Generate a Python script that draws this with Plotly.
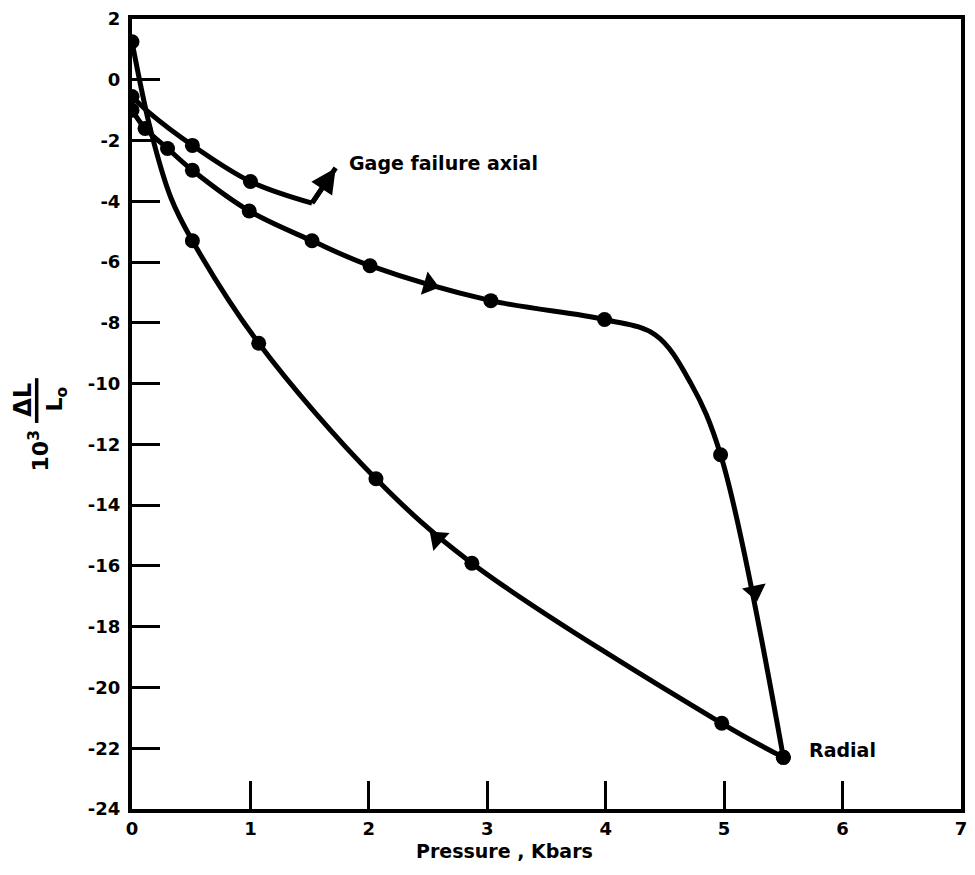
import plotly.graph_objects as go

# Axial gage: measured points and the traced curve up to gage failure
axial_dot_p = [0.0, 0.51, 1.00]
axial_dot_s = [-0.55, -2.16, -3.35]
axial_path_p = [0.0, 0.15, 0.51, 1.00, 1.52]
axial_path_s = [-0.55, -1.10, -2.16, -3.35, -4.06]
axial_fail_p = [1.52, 1.72]
axial_fail_s = [-4.06, -2.90]

# Radial gage, loading branch
radial_load_p = [0.0, 0.11, 0.30, 0.51, 0.99, 1.52, 2.01, 3.03, 3.99, 4.97, 5.50]
radial_load_s = [-1.00, -1.60, -2.26, -2.98, -4.32, -5.30, -6.12, -7.27, -7.89, -12.34, -22.30]
radial_load_path_p = [0.0, 0.11, 0.30, 0.51, 0.99, 1.52, 2.01, 3.03, 3.99, 4.42, 4.72, 4.97, 5.50]
radial_load_path_s = [-1.00, -1.60, -2.26, -2.98, -4.32, -5.30, -6.12, -7.27, -7.89, -8.40, -10.00, -12.34, -22.30]

# Radial gage, unloading branch
radial_unload_p = [5.50, 4.98, 2.87, 2.06, 1.07, 0.51, 0.0]
radial_unload_s = [-22.30, -21.18, -15.91, -13.13, -8.67, -5.30, 1.25]
radial_unload_path_p = [5.50, 4.98, 2.87, 2.06, 1.07, 0.51, 0.33, 0.16, 0.0]
radial_unload_path_s = [-22.30, -21.18, -15.91, -13.13, -8.67, -5.30, -3.90, -1.70, 1.25]

# Direction arrows along the loop (position, heading in screen degrees)
arrow_p = [2.51, 5.26, 2.58]
arrow_s = [-6.74, -16.83, -15.10]
arrow_angle = [16, 78, 222]

x_ticks = [0, 1, 2, 3, 4, 5, 6, 7]
y_ticks = list(range(2, -25, -2))

FONT = "DejaVu Sans"
LW = 5

fig = go.Figure()

for px, sy in [(axial_path_p, axial_path_s),
               (radial_load_path_p, radial_load_path_s),
               (radial_unload_path_p, radial_unload_path_s)]:
    fig.add_trace(go.Scatter(x=px, y=sy, mode="lines",
                             line=dict(color="black", width=LW, shape="spline", smoothing=1.0),
                             hoverinfo="skip"))

fig.add_trace(go.Scatter(x=axial_fail_p, y=axial_fail_s, mode="lines",
                         line=dict(color="black", width=LW), hoverinfo="skip"))

for px, sy in [(axial_dot_p, axial_dot_s),
               (radial_load_p, radial_load_s),
               (radial_unload_p, radial_unload_s)]:
    fig.add_trace(go.Scatter(x=px, y=sy, mode="markers",
                             marker=dict(color="black", size=15)))

fig.add_trace(go.Scatter(x=arrow_p, y=arrow_s, mode="markers",
                         marker=dict(symbol="triangle-right", color="black", size=21,
                                     angle=arrow_angle)))

# Arrowhead at the gage failure point
fig.add_annotation(x=axial_fail_p[1], y=axial_fail_s[1], ax=axial_fail_p[0], ay=axial_fail_s[0],
                   xref="x", yref="y", axref="x", ayref="y", text="",
                   showarrow=True, arrowhead=2, arrowsize=1.0, arrowwidth=LW, arrowcolor="black")

L, R, T, B = 132, 967, 15, 809
W, H = 975, 875


def px2paper(x, y):
    return (x - L) / (R - L), (B - y) / (B - T)


def label(text, x, y, size=19, angle=0):
    xp, yp = px2paper(x, y)
    fig.add_annotation(x=xp, y=yp, xref="paper", yref="paper", text=text, showarrow=False,
                       textangle=angle,
                       font=dict(family=FONT, size=size, color="black", weight="bold"),
                       xanchor="center", yanchor="middle")


label("Gage failure axial", 446, 160)
label("Radial", 848, 750)
label("Pressure , Kbars", 507, 851)

# Vertical axis label: 10^3 ΔL / L_o
label("10<sup>3</sup>", 38, 449, size=22, angle=-90)
label("ΔL", 22, 398, size=24, angle=-90)
label("L<sub>o</sub>", 56, 397, size=22, angle=-90)
bx0, by0 = px2paper(36, 376)
bx1, by1 = px2paper(36, 421)
fig.add_shape(type="line", xref="paper", yref="paper", x0=bx0, y0=by0, x1=bx1, y1=by1,
              line=dict(color="black", width=3.5))

axis_common = dict(showgrid=False, zeroline=False, showline=True, linecolor="black",
                   linewidth=4, mirror=True, ticks="inside", ticklen=28, tickwidth=2.5,
                   tickcolor="black",
                   tickfont=dict(family=FONT, size=18, color="black", weight="bold"))

fig.update_xaxes(range=[0, 7], tickvals=x_ticks, ticktext=[str(v) for v in x_ticks], **axis_common)
fig.update_yaxes(range=[-24, 2], tickvals=y_ticks, ticktext=[str(v) for v in y_ticks],
                 ticklabelstandoff=4, **axis_common)

fig.update_layout(width=W, height=H, margin=dict(l=L, r=W - R, t=T, b=H - B),
                  plot_bgcolor="white", paper_bgcolor="white", showlegend=False)

fig.write_html("out.html")
